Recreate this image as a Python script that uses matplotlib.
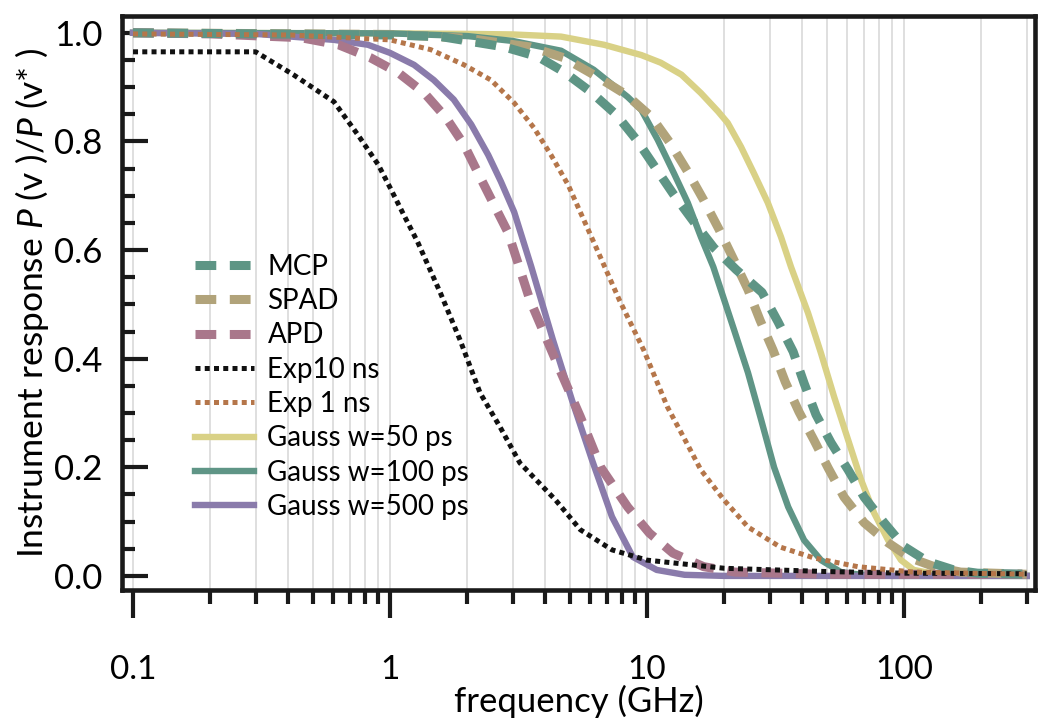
import matplotlib
matplotlib.use("Agg")
import matplotlib.pyplot as plt
from matplotlib.ticker import LogLocator, MultipleLocator, FixedLocator, FixedFormatter, NullFormatter

plt.rcParams['font.family'] = ['Lato', 'DejaVu Sans']
plt.rcParams['mathtext.fontset'] = 'custom'
plt.rcParams['mathtext.it'] = 'Lato:italic'
plt.rcParams['mathtext.rm'] = 'Lato'

# ---- data (frequency in GHz, normalized response) ----
mcp_f = [0.1, 1.0, 1.58, 2.78, 3.76, 4.75, 6.05, 7.6, 9.1, 10.8, 12.7, 15.2, 18.2, 22.2, 28.0, 32.3, 37.0,
         40.8, 45.4, 52.0, 60.6, 69.9, 83.6, 100.0, 124.0, 156.0, 193.0, 300.0]
mcp_v = [1.0, 0.996, 0.993, 0.974, 0.956, 0.928, 0.891, 0.849, 0.803, 0.751, 0.702, 0.652, 0.604, 0.564,
         0.522, 0.468, 0.413, 0.355, 0.297, 0.245, 0.195, 0.145, 0.098, 0.054, 0.026, 0.011, 0.005, 0.003]

spad_f = [0.1, 1.0, 2.0, 3.5, 4.75, 6.4, 8.3, 10.4, 12.3, 14.4, 16.6, 19.1, 21.6, 24.7, 27.5, 30.9, 34.5,
          39.0, 44.6, 50.6, 58.4, 69.9, 86.6, 106.0, 131.0, 166.0, 300.0]
spad_v = [1.0, 0.997, 0.99, 0.974, 0.954, 0.919, 0.886, 0.845, 0.797, 0.744, 0.692, 0.637, 0.585, 0.527,
          0.471, 0.416, 0.357, 0.302, 0.25, 0.199, 0.145, 0.098, 0.061, 0.033, 0.017, 0.007, 0.003]

apd_f = [0.1, 0.2, 0.45, 0.63, 0.84, 1.08, 1.36, 1.65, 1.94, 2.22, 2.54, 2.88, 3.5, 4.4, 5.5, 6.6, 8.4,
         10.2, 12.6, 16.6, 22.0, 50.0, 300.0]
apd_v = [1.0, 0.998, 0.991, 0.978, 0.954, 0.926, 0.889, 0.844, 0.794, 0.738, 0.683, 0.632, 0.508, 0.398,
         0.293, 0.20, 0.127, 0.079, 0.042, 0.017, 0.007, 0.003, 0.003]

exp10_f = [0.1, 0.3, 0.42, 0.605, 0.75, 0.9, 1.0, 1.13, 1.28, 1.57, 1.87, 2.24, 2.68, 3.2, 4.4, 5.5, 7.3,
           10.0, 20.0, 50.0, 100.0, 300.0]
exp10_v = [0.965, 0.965, 0.923, 0.873, 0.812, 0.757, 0.715, 0.665, 0.615, 0.521, 0.435, 0.337, 0.274,
           0.208, 0.14, 0.085, 0.048, 0.029, 0.014, 0.008, 0.005, 0.004]

exp1_f = [0.1, 0.41, 1.0, 1.44, 1.94, 2.47, 3.04, 3.63, 4.23, 4.93, 6.4, 7.8, 9.7, 12.0, 13.6, 16.2, 19.9,
          24.7, 33.0, 44.6, 66.0, 109.0, 300.0]
exp1_v = [0.998, 0.996, 0.987, 0.969, 0.941, 0.913, 0.871, 0.825, 0.775, 0.72, 0.60, 0.508, 0.416, 0.311,
          0.263, 0.195, 0.14, 0.09, 0.053, 0.033, 0.017, 0.007, 0.003]

g50_f = [0.1, 1.0, 2.0, 3.0, 4.63, 6.8, 9.5, 11.3, 13.6, 16.2, 18.9, 20.6, 23.2, 26.0, 29.5, 33.2, 36.3,
         42.3, 47.5, 53.4, 60.6, 68.0, 76.4, 86.6, 97.3, 109.0, 127.0, 160.0, 300.0]
g50_v = [1.0, 0.999, 0.998, 0.997, 0.993, 0.978, 0.959, 0.945, 0.923, 0.889, 0.855, 0.834, 0.79, 0.742,
         0.687, 0.624, 0.569, 0.484, 0.41, 0.33, 0.25, 0.177, 0.116, 0.066, 0.029, 0.011, 0.005, 0.001, 0.0]

g100_f = [0.1, 1.0, 2.0, 3.0, 4.63, 6.2, 8.4, 9.5, 11.0, 12.7, 14.4, 16.2, 18.1, 21.8, 24.7, 27.8, 31.2,
          35.4, 40.8, 47.5, 56.8, 68.0, 90.0, 300.0]
g100_v = [1.0, 0.999, 0.994, 0.985, 0.967, 0.932, 0.882, 0.858, 0.803, 0.742, 0.687, 0.624, 0.569, 0.453,
          0.374, 0.287, 0.20, 0.127, 0.066, 0.029, 0.007, 0.002, 0.0, 0.0]

g500_f = [0.1, 0.3, 0.412, 0.605, 0.82, 1.0, 1.24, 1.48, 1.77, 2.07, 2.41, 2.7, 3.04, 3.54, 4.3, 5.1, 6.1,
          7.3, 8.8, 10.9, 14.0, 20.0, 300.0]
g500_v = [1.0, 0.998, 0.993, 0.987, 0.978, 0.963, 0.941, 0.913, 0.877, 0.831, 0.775, 0.726, 0.670, 0.570,
          0.435, 0.324, 0.214, 0.109, 0.035, 0.011, 0.002, 0.0, 0.0]

x_ticks = [0.1, 1, 10, 100]
x_ticklabels = ['0.1', '1', '10', '100']
y_ticks = [0.0, 0.2, 0.4, 0.6, 0.8, 1.0]
y_ticklabels = ['0.0', '0.2', '0.4', '0.6', '0.8', '1.0']

# ---- figure ----
fig = plt.figure(figsize=(10.5, 7.26), dpi=100)
ax = fig.add_axes([0.1162, 0.1873, 0.8695, 0.7907])

dash_lw = 6.5
dot_lw = 3.6
sol_lw = 4.6
dash_pat = (2.3, 1.5)
dot_pat = (1.0, 0.85)

ax.plot(mcp_f, mcp_v, color='#5e9585', lw=dash_lw, dashes=dash_pat, dash_capstyle='butt', label='MCP', zorder=5)
ax.plot(spad_f, spad_v, color='#b1a37a', lw=dash_lw, dashes=dash_pat, dash_capstyle='butt', label='SPAD', zorder=4)
ax.plot(apd_f, apd_v, color='#a9778b', lw=dash_lw, dashes=dash_pat, dash_capstyle='butt', label='APD', zorder=4)
ax.plot(exp10_f, exp10_v, color='#111111', lw=dot_lw, dashes=dot_pat, dash_capstyle='butt', label='Exp10 ns', zorder=6)
ax.plot(exp1_f, exp1_v, color='#b5764a', lw=dot_lw, dashes=dot_pat, dash_capstyle='butt', label='Exp 1 ns', zorder=6)
ax.plot(g50_f, g50_v, color='#d9d186', lw=sol_lw, label='Gauss w=50 ps', zorder=3)
ax.plot(g100_f, g100_v, color='#5f9586', lw=sol_lw, label='Gauss w=100 ps', zorder=3)
ax.plot(g500_f, g500_v, color='#8a7bab', lw=sol_lw, label='Gauss w=500 ps', zorder=3)

ax.set_xscale('log')
ax.set_xlim(0.0906, 323)
ax.set_ylim(-0.026, 1.031)

ax.xaxis.set_major_locator(FixedLocator(x_ticks))
ax.xaxis.set_major_formatter(FixedFormatter(x_ticklabels))
ax.xaxis.set_minor_locator(LogLocator(base=10, subs=range(2, 10), numticks=20))
ax.xaxis.set_minor_formatter(NullFormatter())
ax.yaxis.set_major_locator(FixedLocator(y_ticks))
ax.yaxis.set_major_formatter(FixedFormatter(y_ticklabels))
ax.yaxis.set_minor_locator(MultipleLocator(0.05))

ax.grid(True, which='both', axis='x', color='#dcdcdc', lw=1.3, zorder=0)
ax.set_axisbelow(True)

for s in ax.spines.values():
    s.set_linewidth(3.3)
    s.set_color('#1a1a1a')

ax.tick_params(axis='x', which='major', direction='out', length=20, width=3, pad=27, labelsize=24, color='#1a1a1a')
ax.tick_params(axis='x', which='minor', direction='out', length=10, width=3, color='#1a1a1a')
ax.tick_params(axis='y', which='major', direction='in', length=19, width=3, pad=14, labelsize=25, color='#1a1a1a')
ax.tick_params(axis='y', which='minor', direction='in', length=9.5, width=3, color='#1a1a1a')

ax.set_xlabel('frequency (GHz)', fontsize=25, labelpad=0)
ax.set_ylabel(r'Instrument response $P$ (v )/$P$ (v* )', fontsize=25.5, labelpad=2)

leg = ax.legend(loc='upper left', bbox_to_anchor=(0.068, 0.605), frameon=False, fontsize=20,
                handlelength=2.1, handletextpad=0.5, labelspacing=0.3, borderaxespad=0.0)

fig.savefig('out.png', dpi=100)
